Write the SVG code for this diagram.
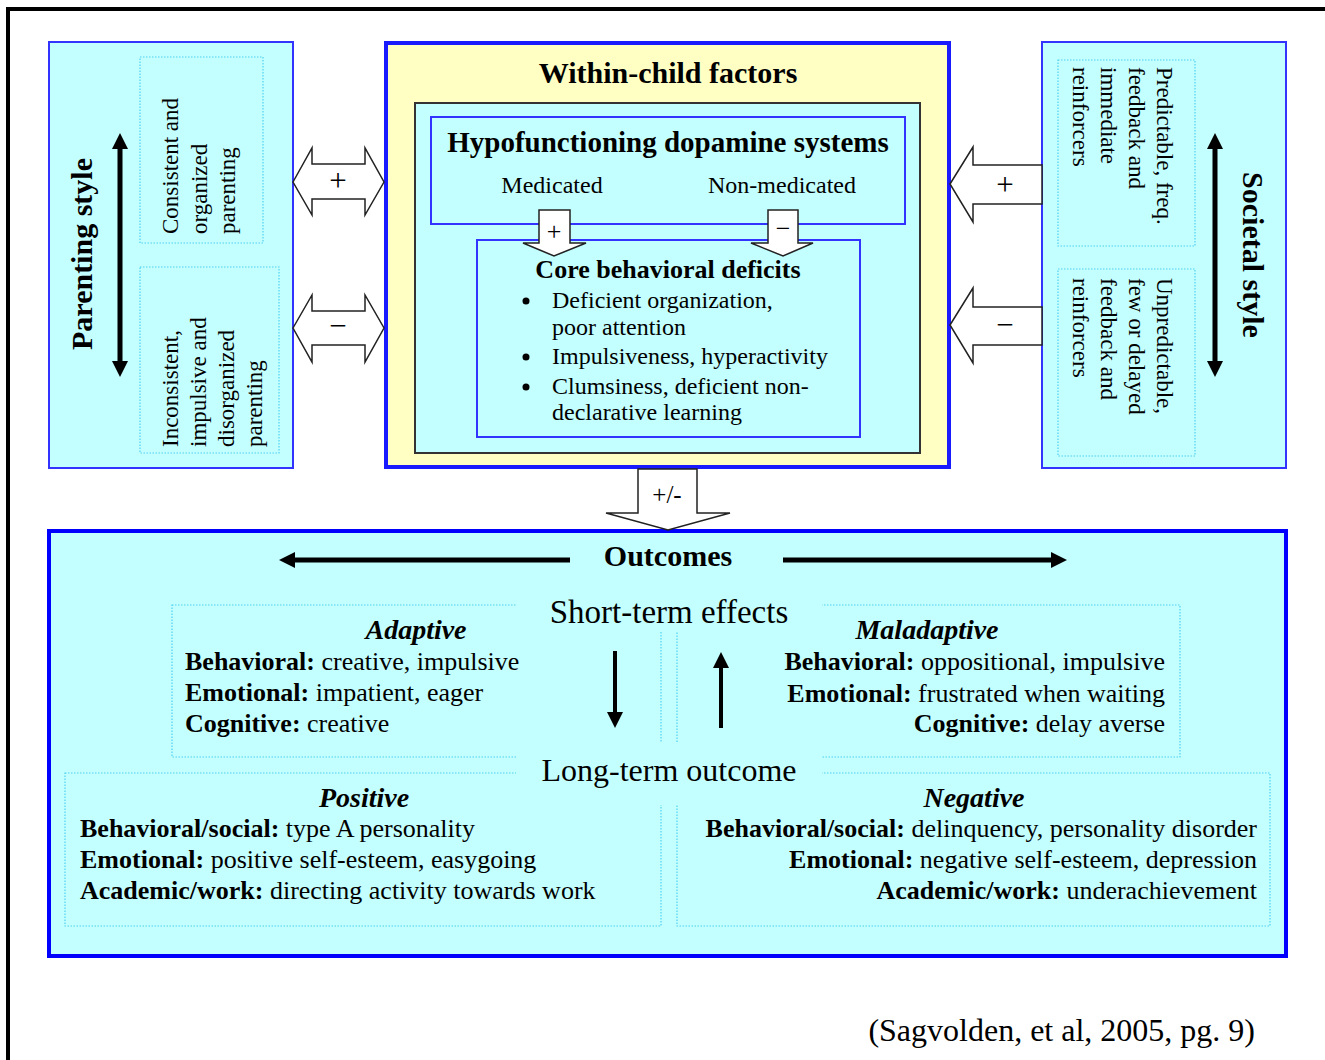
<svg xmlns="http://www.w3.org/2000/svg" width="1325" height="1060" viewBox="0 0 1325 1060">
<defs>
<style>
.t{font-family:"Liberation Serif","Times New Roman",serif;fill:#000}
.b{font-weight:bold}
.bi{font-weight:bold;font-style:italic}
.cy{fill:#c4ffff}
.bl{stroke:#3333ff;stroke-width:2}
.dot{fill:none;stroke:#4fd0f0;stroke-width:1.2;stroke-dasharray:1.5 1.5}
.hol{fill:#fff;stroke:#222;stroke-width:1.5;stroke-linejoin:miter}
.thick{stroke:#000;stroke-width:5;fill:none}
.mid{stroke:#000;stroke-width:4;fill:none}
</style>
<marker id="ah" viewBox="0 0 16 16" markerWidth="16" markerHeight="16" refX="8" refY="8" orient="auto-start-reverse" markerUnits="userSpaceOnUse">
<path d="M0,0 L16,8 L0,16 Z" fill="#000"/>
</marker>
</defs>
<rect width="1325" height="1060" fill="#fff"/>
<path d="M8,1060 V9 H1325" fill="none" stroke="#000" stroke-width="4"/>

<g id="parenting">
<rect x="49" y="42" width="244" height="426" class="cy bl"/>
<rect x="140" y="57" width="123" height="186" class="dot"/>
<rect x="140" y="267" width="139" height="186" class="dot"/>
<text class="t b" font-size="30" text-anchor="middle" transform="translate(92,254) rotate(-90)">Parenting style</text>
<g class="t" font-size="23">
<text transform="translate(178,234) rotate(-90)">Consistent and</text>
<text transform="translate(207,234) rotate(-90)">organized</text>
<text transform="translate(235,234) rotate(-90)">parenting</text>
<text transform="translate(178,447) rotate(-90)">Inconsistent,</text>
<text transform="translate(206,447) rotate(-90)">impulsive and</text>
<text transform="translate(234,447) rotate(-90)">disorganized</text>
<text transform="translate(262,447) rotate(-90)">parenting</text>
</g>
<line x1="120" y1="141" x2="120" y2="369" class="thick" marker-start="url(#ah)" marker-end="url(#ah)"/>
</g>

<g id="societal">
<rect x="1042" y="42" width="244" height="426" class="cy bl"/>
<rect x="1058" y="60" width="137" height="186" class="dot"/>
<rect x="1058" y="269" width="137" height="187" class="dot"/>
<text class="t b" font-size="30" text-anchor="middle" transform="translate(1243,255) rotate(90)">Societal style</text>
<g class="t" font-size="23">
<text transform="translate(1157,67) rotate(90)">Predictable, freq.</text>
<text transform="translate(1129,67) rotate(90)">feedback and</text>
<text transform="translate(1101,67) rotate(90)">immediate</text>
<text transform="translate(1073,67) rotate(90)">reinforcers</text>
<text transform="translate(1157,278) rotate(90)">Unpredictable,</text>
<text transform="translate(1129,278) rotate(90)">few or delayed</text>
<text transform="translate(1101,278) rotate(90)">feedback and</text>
<text transform="translate(1073,278) rotate(90)">reinforcers</text>
</g>
<line x1="1215" y1="141" x2="1215" y2="369" class="thick" marker-start="url(#ah)" marker-end="url(#ah)"/>
</g>

<g id="within-child">
<rect x="386" y="43" width="563" height="424" fill="#ffffc4" stroke="#1a1aff" stroke-width="4"/>
<text x="668" y="83" class="t b" font-size="30" text-anchor="middle">Within-child factors</text>
<rect x="415" y="103" width="505" height="350" class="cy" stroke="#333" stroke-width="2"/>
</g>

<g id="dopamine">
<rect x="431" y="117" width="474" height="107" class="cy bl"/>
<text x="668" y="152" class="t b" font-size="29" text-anchor="middle">Hypofunctioning dopamine systems</text>
<text x="552" y="193" class="t" font-size="24" text-anchor="middle">Medicated</text>
<text x="782" y="193" class="t" font-size="24" text-anchor="middle">Non-medicated</text>
</g>

<g id="core">
<rect x="477" y="240" width="383" height="197" class="cy bl"/>
<text x="668" y="278" class="t b" font-size="26" text-anchor="middle">Core behavioral deficits</text>
<g fill="#000">
<circle cx="526" cy="301" r="3.5"/>
<circle cx="526" cy="357" r="3.5"/>
<circle cx="526" cy="387" r="3.5"/>
</g>
<g class="t" font-size="24">
<text x="552" y="308">Deficient organization,</text>
<text x="552" y="335">poor attention</text>
<text x="552" y="364">Impulsiveness, hyperactivity</text>
<text x="552" y="394">Clumsiness, deficient non-</text>
<text x="552" y="420">declarative learning</text>
</g>
</g>

<g id="outcomes">
<rect x="49" y="531" width="1237" height="425" class="cy" stroke="#0000ff" stroke-width="4"/>
<text x="668" y="566" class="t b" font-size="30" text-anchor="middle">Outcomes</text>
<rect x="172" y="605" width="489" height="152" class="dot"/>
<rect x="677" y="605" width="503" height="152" class="dot"/>
<rect x="65" y="773" width="596" height="153" class="dot"/>
<rect x="677" y="773" width="593" height="153" class="dot"/>
<rect x="516" y="588" width="306" height="44" class="cy"/>
<rect x="516" y="742" width="306" height="63" class="cy"/>
<text x="669" y="623" class="t" font-size="33" text-anchor="middle">Short-term effects</text>
<text x="669" y="781" class="t" font-size="32" text-anchor="middle">Long-term outcome</text>
</g>

<g id="adaptive" class="t" font-size="26">
<text x="416" y="639" class="bi" font-size="28" text-anchor="middle">Adaptive</text>
<text x="185" y="670"><tspan class="b">Behavioral:</tspan> creative, impulsive</text>
<text x="185" y="701"><tspan class="b">Emotional:</tspan> impatient, eager</text>
<text x="185" y="732"><tspan class="b">Cognitive:</tspan> creative</text>
</g>

<g id="maladaptive" class="t" font-size="26">
<text x="927" y="639" class="bi" font-size="28" text-anchor="middle">Maladaptive</text>
<text x="1165" y="670" text-anchor="end"><tspan class="b">Behavioral:</tspan> oppositional, impulsive</text>
<text x="1165" y="702" text-anchor="end"><tspan class="b">Emotional:</tspan> frustrated when waiting</text>
<text x="1165" y="732" text-anchor="end"><tspan class="b">Cognitive:</tspan> delay averse</text>
</g>

<g id="positive" class="t" font-size="26">
<text x="364" y="807" class="bi" font-size="28" text-anchor="middle">Positive</text>
<text x="80" y="837"><tspan class="b">Behavioral/social:</tspan> type A personality</text>
<text x="80" y="868"><tspan class="b">Emotional:</tspan> positive self-esteem, easygoing</text>
<text x="80" y="899"><tspan class="b">Academic/work:</tspan> directing activity towards work</text>
</g>

<g id="negative" class="t" font-size="26">
<text x="974" y="807" class="bi" font-size="28" text-anchor="middle">Negative</text>
<text x="1257" y="837" text-anchor="end"><tspan class="b">Behavioral/social:</tspan> delinquency, personality disorder</text>
<text x="1257" y="868" text-anchor="end"><tspan class="b">Emotional:</tspan> negative self-esteem, depression</text>
<text x="1257" y="899" text-anchor="end"><tspan class="b">Academic/work:</tspan> underachievement</text>
</g>

<g id="connectors">
<polygon class="hol" points="293,182 312,148 312,164 365,164 365,148 384,182 365,215 365,199 312,199 312,215"/>
<polygon class="hol" points="293,328 312,295 312,311 365,311 365,295 384,328 365,362 365,345 312,345 312,362"/>
<polygon class="hol" points="950,184 973,147 973,165 1042,165 1042,204 973,204 973,222"/>
<polygon class="hol" points="950,325 973,288 973,307 1042,307 1042,345 973,345 973,363"/>
<polygon class="hol" points="539,210 570,210 570,243 586,243 554,256 523,243 539,243"/>
<polygon class="hol" points="768,210 798,210 798,243 813,243 783,256 751,243 768,243"/>
<polygon class="hol" points="638,469 697,469 697,513 730,513 668,530 606,513 638,513"/>
<g class="t" font-size="31" text-anchor="middle">
<text x="338" y="191">+</text>
<text x="338" y="336">−</text>
<text x="1005" y="195">+</text>
<text x="1005" y="335">−</text>
<text x="554" y="240" font-size="26">+</text>
<text x="783" y="237" font-size="26">−</text>
</g>
<text x="667" y="503" class="t" font-size="25" text-anchor="middle">+/-</text>
<line x1="570" y1="560" x2="287" y2="560" class="thick" marker-end="url(#ah)"/>
<line x1="783" y1="560" x2="1059" y2="560" class="thick" marker-end="url(#ah)"/>
<line x1="615" y1="651" x2="615" y2="720" class="mid" marker-end="url(#ah)"/>
<line x1="721" y1="728" x2="721" y2="660" class="mid" marker-end="url(#ah)"/>
</g>

<text x="1255" y="1041" class="t" font-size="32" text-anchor="end">(Sagvolden, et al, 2005, pg. 9)</text>
</svg>
